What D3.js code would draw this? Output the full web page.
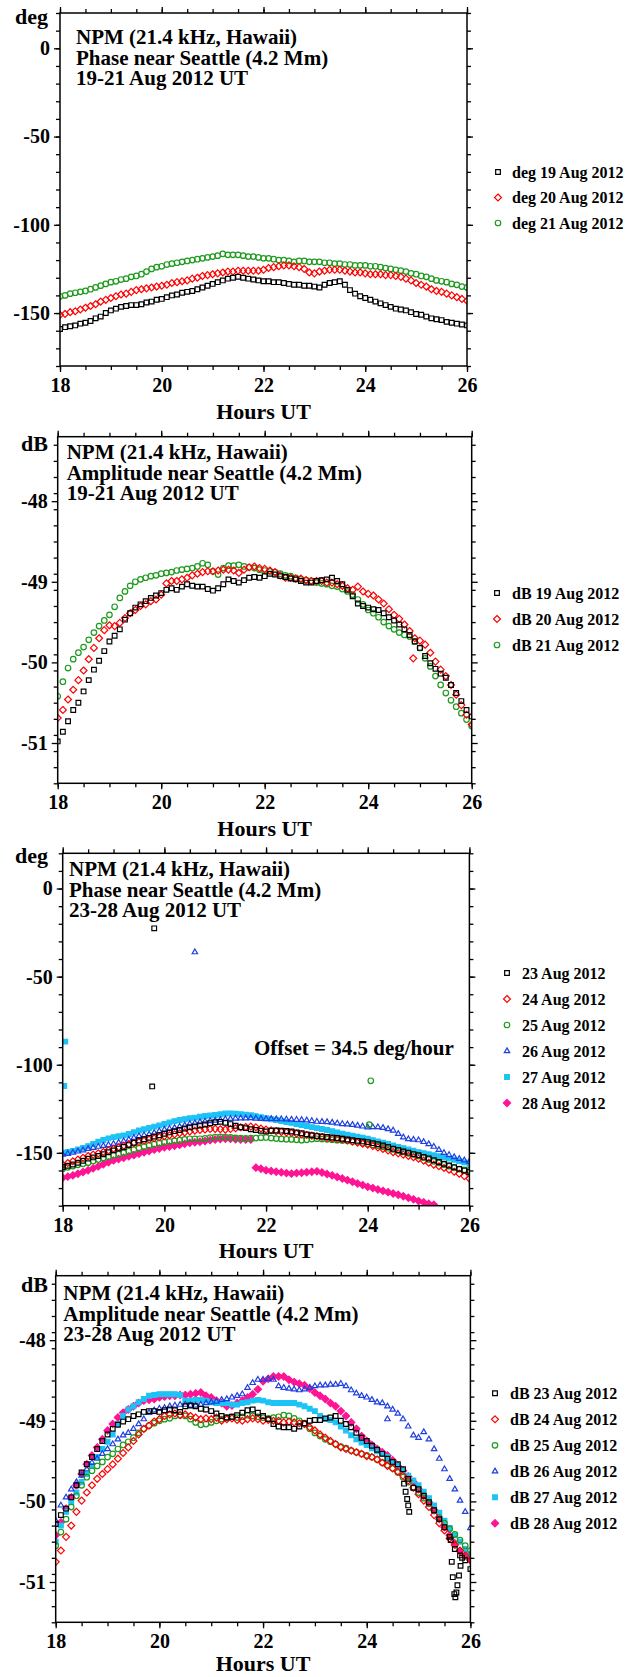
<!DOCTYPE html>
<html lang="en">
<head>
<meta charset="UTF-8">
<title>NPM phase and amplitude near Seattle</title>
<script src="https://d3js.org/d3.v7.min.js"></script>
<style>
  body { margin: 0; background: #fff; }
  svg text { font-family: "Liberation Serif", "Times New Roman", serif; font-weight: bold; fill: #000; }
</style>
</head>
<body>
<div id="chartArea"></div>
<script>
// sample times in hours UT, one every 6 minutes from 18 to 26
const hours = d3.range(81).map(i => 18 + i / 10);
const hourTicks = [18, 20, 22, 24, 26];
const phaseTicks = [0, -50, -100, -150];
const ampTicks = [-48, -49, -50, -51];

// phase 19-21 Aug (deg)
const phase19 = [-159,-158,-157.5,-157,-156,-155.5,-154.5,-153,-152,-150,
  -148.5,-147.5,-146.5,-146,-145.5,-145.5,-145,-144,-143.5,-142.5,
  -142,-141,-140,-139.5,-138.5,-138,-137.5,-136.5,-135.5,-134.5,
  -133.5,-132.5,-131.5,-130.5,-130,-129.5,-130,-130.5,-131,-131.5,
  -132,-132,-132.5,-132.5,-133,-133.5,-134,-134,-134.5,-134.5,
  -135,-135.5,-134,-133,-132.5,-132,-134,-137,-139,-140.5,
  -141.5,-142.5,-143.5,-144.5,-145.5,-146.5,-147.5,-148,-148.5,-149.5,
  -150.5,-151,-152,-153,-153.5,-154,-155,-155.5,-156,-156.5,-157];
const phase20 = [-151,-150.5,-149.5,-149,-148,-147,-146,-145,-143.5,-142.5,
  -141.5,-140.5,-139.5,-139,-138,-137,-136.5,-136,-135.5,-135,
  -134.5,-134,-133,-132.5,-132,-131.5,-130.5,-130,-129,-128.5,
  -128,-127.5,-127,-126.5,-126.5,-126,-126,-126,-126,-126,
  -125.5,-124.5,-124,-123.5,-123,-123,-123.5,-124,-125,-127,
  -127.5,-126.5,-126,-125.5,-125.5,-125.5,-126,-126.5,-127,-127,
  -127.5,-128,-128,-128,-128.5,-128.5,-129,-129.5,-130.5,-131.5,
  -133,-134,-135,-136.5,-137.5,-138,-139,-140,-141,-142,-143];
const phase21 = [-140.5,-140,-139,-138.5,-138,-137.5,-136.5,-135.5,-134.5,-133.5,
  -132.5,-132,-131,-130.5,-129.5,-129,-128,-126.5,-125,-124,
  -123.5,-122.5,-122,-121.5,-121,-120.5,-120,-119.5,-119,-118.5,
  -118,-117.5,-116.5,-117,-117,-117,-117.5,-118,-118,-118.5,
  -119,-119,-119.5,-120,-120,-120.5,-121,-120.5,-120.5,-121,
  -121,-121,-121.5,-121.5,-122,-122,-122.5,-122.5,-123,-123,
  -123,-123.5,-123.5,-124,-124.5,-125,-125.5,-126,-126.5,-127.5,
  -128,-129,-129.5,-130.5,-131.5,-132,-132.5,-133.5,-134,-135,-135.5];

// amplitude 19-21 Aug (dB)
const amp19 = [-50.98,-50.86,-50.73,-50.59,-50.5,-50.36,-50.22,-50.09,-49.98,-49.86,
  -49.74,-49.67,-49.59,-49.47,-49.39,-49.32,-49.28,-49.24,-49.2,-49.17,
  -49.14,-49.1,-49.08,-49.1,-49.06,-49.03,-49.05,-49.06,-49.06,-49.09,
  -49.11,-49.08,-49.03,-48.97,-48.99,-49.01,-48.98,-48.95,-48.94,-48.95,
  -48.93,-48.9,-48.91,-48.93,-48.94,-48.96,-48.97,-48.99,-49.01,-49.01,
  -48.99,-48.98,-48.97,-48.95,-48.99,-49.03,-49.1,-49.18,-49.27,-49.3,
  -49.32,-49.34,-49.35,-49.39,-49.44,-49.48,-49.53,-49.59,-49.66,-49.74,
  -49.82,-49.92,-50.01,-50.08,-50.14,-50.19,-50.28,-50.38,-50.48,-50.59,-50.67];
const amp20 = [-50.69,-50.59,-50.46,-50.34,-50.22,-50.1,-49.96,-49.82,-49.7,-49.6,
  -49.54,-49.55,-49.51,-49.45,-49.39,-49.35,-49.3,-49.28,-49.24,-49.22,
  -49.16,-49.02,-48.99,-48.99,-48.97,-48.95,-48.92,-48.9,-48.88,-48.87,
  -48.87,-48.86,-48.85,-48.85,-48.86,-48.89,-48.85,-48.82,-48.81,-48.83,
  -48.84,-48.86,-48.88,-48.92,-48.95,-48.95,-48.96,-48.96,-48.98,-48.99,
  -48.99,-48.99,-49.01,-49.01,-49.03,-49.05,-49.08,-49.1,-49.06,-49.12,
  -49.15,-49.17,-49.22,-49.27,-49.34,-49.41,-49.46,-49.53,-49.61,-49.7,
  -49.73,-49.78,-49.88,-49.99,-50.09,-50.17,-50.28,-50.4,-50.53,-50.65,-50.77];
const amp21 = [-50.42,-50.24,-50.07,-49.96,-49.88,-49.81,-49.72,-49.63,-49.55,-49.48,
  -49.41,-49.31,-49.2,-49.12,-49.05,-49,-48.97,-48.95,-48.93,-48.92,
  -48.9,-48.89,-48.88,-48.86,-48.85,-48.84,-48.83,-48.81,-48.77,-48.79,
  -48.87,-48.91,-48.83,-48.8,-48.8,-48.79,-48.81,-48.82,-48.83,-48.85,
  -48.86,-48.87,-48.88,-48.9,-48.92,-48.93,-48.95,-48.97,-48.98,-48.99,
  -49.01,-49.02,-49.03,-49.05,-49.06,-49.09,-49.12,-49.16,-49.22,-49.28,
  -49.35,-49.39,-49.44,-49.5,-49.55,-49.59,-49.63,-49.66,-49.68,-49.74,
  -49.82,-49.95,-50.05,-50.17,-50.28,-50.38,-50.47,-50.55,-50.63,-50.71,-50.79];
const amp20OutHours = [24.87];
const amp20OutVals = [-49.95];

// phase 23-28 Aug (deg)
const phase23 = [-158,-157.3,-156.6,-155.6,-154.5,-153.3,-152.6,-151.8,-150.8,-149.7,
  -148.6,-147.6,-146.7,-145.6,-144.3,-143,-142.3,-141.5,-140.7,-140,
  -139.2,-138.4,-137.7,-137,-136.2,-135.5,-135,-134.5,-133.9,-133.2,
  -132.6,-132.4,-132.9,-133.7,-134.6,-135.5,-136,-136.6,-137,-137.5,
  -137.9,-137.5,-137.3,-137.4,-137.6,-137.9,-138.4,-138.9,-139.5,-140,
  -140.5,-140.7,-141,-141.3,-141.6,-142,-142.4,-142.8,-143.2,-143.5,
  -143.9,-144.5,-145.1,-145.8,-146.7,-147.7,-148.4,-149.2,-149.9,-150.7,
  -151.4,-152.3,-153.2,-154.2,-155.2,-156.2,-157.2,-158.1,-159.1,-160,-160.9];
const phase24 = [-156.7,-155.8,-154.8,-153.8,-152.8,-151.8,-151,-150.3,-149.5,-148.6,
  -147.7,-146.8,-145.9,-145.1,-144.5,-143.9,-143.1,-142.4,-141.7,-141.1,
  -140.5,-140,-139.5,-138.9,-138.4,-137.9,-137.4,-137,-136.7,-136.5,
  -136.4,-136.6,-136.8,-136.5,-136,-135.5,-135.3,-135.1,-135.5,-136.2,
  -136.8,-137.2,-137.7,-138.1,-138.4,-138.7,-139.1,-139.6,-139.9,-140.2,
  -140.5,-141,-141.5,-141.8,-142.1,-142.4,-143,-143.6,-144.2,-144.8,
  -145.4,-146.1,-146.9,-147.8,-148.7,-149.6,-150.3,-151,-151.8,-152.5,
  -153.3,-154.4,-155.6,-156.7,-157.6,-158.6,-159.6,-160.7,-161.8,-163.2,-164.6];
const phase25 = [-159,-158.2,-157.5,-156.8,-156.2,-155.6,-154.7,-153.8,-152.9,-152.2,
  -151.4,-150.7,-150,-149.1,-148.2,-147.3,-146.5,-145.8,-145.1,-144.5,
  -143.9,-143.5,-143.2,-142.8,-142.4,-142,-142.1,-142,-141.8,-141.4,
  -141.1,-141,-141.1,-141.2,-141.5,-141.7,-141.8,-141.7,-141.6,-141.4,
  -141.3,-141.6,-141.9,-142.1,-142.3,-142.4,-142.6,-142.8,-142.6,-142.2,
  -142,-142.2,-142.3,-142.5,-142.8,-143,-143.2,-143.5,-143.9,-144.4,
  -144.9,-145.4,-145.9,-146.6,-147.4,-148.1,-148.8,-149.5,-150.3,-151,
  -151.8,-152.8,-153.8,-154.8,-155.7,-156.7,-157.6,-158.5,-159.2,-159.6,-160];
const phase26 = [-151,-150.5,-149.9,-149.2,-148.5,-147.7,-147.1,-146.5,-146,-145.5,
  -144.9,-144.2,-143.4,-142.5,-141.5,-140.5,-140,-139.5,-138.7,-137.7,
  -136.8,-136.3,-135.8,-135.1,-134.4,-133.6,-133.1,-132.5,-132.2,-131.9,
  -131.7,-131.3,-130.9,-130.7,-130.5,-130.4,-130.4,-130.3,-130.5,-130.7,
  -130.8,-130.7,-130.8,-130.9,-131,-131.1,-131.2,-131.3,-131.5,-131.9,
  -132.3,-132.4,-132.5,-132.8,-133.2,-133.6,-133.8,-134.1,-134.5,-135,
  -135.5,-135.4,-135.4,-135.8,-136.5,-137.3,-139.2,-141.2,-142.2,-142.5,
  -142.8,-143.8,-145,-146.5,-148.3,-150,-151.2,-152.4,-153.4,-154.2,-155];
const phase27 = [-150,-149.5,-148.9,-148.1,-147.2,-146.2,-145,-143.7,-142.7,-141.8,
  -141.1,-140.6,-140.1,-139.3,-138.3,-137.3,-136.6,-135.9,-135.1,-134.4,
  -133.6,-132.8,-132,-131.4,-130.9,-130.4,-130,-129.5,-129.1,-128.8,
  -128.5,-128.1,-127.7,-127.6,-127.8,-128,-128.3,-128.7,-129.2,-129.8,
  -130.4,-130.9,-131.4,-132,-132.5,-133,-133.6,-134.2,-134.8,-135.4,
  -136,-136.5,-137,-137.7,-138.4,-139.2,-139.7,-140.2,-140.8,-141.4,
  -142,-142.8,-143.5,-144.3,-145,-145.8,-146.6,-147.3,-148.1,-148.8,
  -149.6,-150.2,-150.8,-151.4,-151.9,-152.4,-153.2,-153.9,-154.7,-155.4,-156.2];
const phase28 = [-164.2,-163.5,-162.8,-161.9,-160.9,-159.9,-158.8,-157.7,-156.5,-155.4,
  -154.3,-153.5,-152.8,-152,-151.3,-150.5,-149.7,-149,-148.2,-147.5,
  -146.8,-146.4,-146,-145.5,-144.9,-144.3,-144,-143.7,-143.3,-142.8,
  -142.4,-142.2,-142,-142.1,-142.3,-142.4,-142.4,-142.5,-158.4,-159,
  -159.9,-160.3,-160.7,-161.1,-161.5,-161.8,-161.5,-161.3,-161,-160.7,
  -160.5,-161.2,-162,-162.8,-163.7,-164.6,-165.5,-166.4,-167.4,-168.3,
  -169.3,-170,-170.8,-171.6,-172.3,-173.1,-173.8,-174.6,-175.5,-176.4,
  -177.4,-178.1,-178.9,-179.5,null,null,null,null,null,null,null];
const phase23OutHours = [19.76, 19.8];
const phase23OutVals = [-112.3, -22.6];
const phase25OutHours = [24.06, 24.03];
const phase25OutVals = [-109.1, -134];
const phase26OutHours = [20.6];
const phase26OutVals = [-36.1];
const phase27OutHours = [18.05, 18.03];
const phase27OutVals = [-86.9, -112.1];

// amplitude 23-28 Aug (dB)
const amp23 = [-50.28,-50.17,-50.09,-49.95,-49.8,-49.64,-49.54,-49.45,-49.35,-49.25,
  -49.17,-49.1,-49.05,-49.01,-48.98,-48.94,-48.92,-48.89,-48.88,-48.88,
  -48.89,-48.87,-48.86,-48.87,-48.89,-48.82,-48.81,-48.82,-48.85,-48.86,
  -48.88,-48.91,-48.94,-48.96,-48.95,-48.93,-48.9,-48.87,-48.86,-48.9,
  -48.94,-48.98,-49.04,-49.07,-49.08,-49.08,-49.1,-49.07,-49.03,-49,
  -48.99,-48.99,-48.97,-48.96,-48.94,-49,-49.04,-49.08,-49.15,-49.21,
  -49.25,-49.31,-49.36,-49.41,-49.47,-49.51,-49.54,-49.6,-49.72,-49.83,
  -49.85,-49.93,-50.01,-50.11,-50.22,-50.32,-50.44,-50.59,-50.67,-50.73,-50.84];
const amp24 = [-50.75,-50.61,-50.44,-50.3,-50.13,-49.99,-49.89,-49.8,-49.72,-49.66,
  -49.6,-49.54,-49.47,-49.4,-49.33,-49.25,-49.17,-49.1,-49.06,-49.01,
  -48.98,-48.94,-48.92,-48.91,-48.93,-48.92,-48.94,-48.96,-48.98,-48.97,
  -48.98,-48.96,-49,-48.98,-48.97,-48.99,-49,-48.98,-48.97,-48.98,
  -49,-48.99,-49,-49,-49.02,-49.01,-49.02,-49.03,-49.04,-49.08,
  -49.12,-49.17,-49.21,-49.25,-49.29,-49.33,-49.35,-49.37,-49.39,-49.41,
  -49.44,-49.45,-49.48,-49.52,-49.56,-49.59,-49.63,-49.68,-49.74,-49.83,
  -49.91,-49.99,-50.07,-50.17,-50.27,-50.36,-50.46,-50.54,-50.61,-50.67,-50.73];
const amp25 = [-50.55,-50.38,-50.22,-50.07,-49.93,-49.8,-49.7,-49.62,-49.56,-49.51,
  -49.45,-49.41,-49.35,-49.3,-49.26,-49.21,-49.15,-49.1,-49.06,-49.03,
  -49,-48.98,-48.97,-48.94,-48.93,-48.94,-48.98,-49.02,-49.05,-49.04,
  -49.02,-49,-48.98,-48.96,-48.95,-48.96,-48.95,-48.93,-48.94,-48.95,
  -48.96,-48.97,-48.96,-48.95,-48.93,-48.94,-48.97,-49,-49.04,-49.1,
  -49.15,-49.19,-49.23,-49.26,-49.29,-49.32,-49.34,-49.37,-49.39,-49.41,
  -49.43,-49.45,-49.48,-49.52,-49.55,-49.59,-49.64,-49.7,-49.76,-49.83,
  -49.89,-49.96,-50.03,-50.11,-50.2,-50.27,-50.34,-50.41,-50.48,-50.55,-50.61];
const amp26 = [-50.24,-50.05,-49.95,-49.85,-49.76,-49.68,-49.6,-49.52,-49.47,-49.41,
  -49.35,-49.29,-49.23,-49.18,-49.15,-49.1,-49.04,-48.98,-48.9,-48.87,
  -48.85,-48.84,-48.82,-48.81,-48.8,-48.8,-48.81,-48.81,-48.8,-48.78,
  -48.77,-48.76,-48.74,-48.73,-48.71,-48.69,-48.67,-48.59,-48.53,-48.49,
  -48.49,-48.48,-48.49,-48.57,-48.59,-48.6,-48.61,-48.62,-48.61,-48.59,
  -48.57,-48.56,-48.56,-48.55,-48.55,-48.54,-48.57,-48.62,-48.66,-48.69,
  -48.71,-48.74,-48.77,-48.78,-48.82,-48.86,-48.91,-48.98,-49.07,-49.18,
  -49.21,-49.14,-49.23,-49.35,-49.47,-49.6,-49.72,-49.85,-49.99,-50.13,-50.33];
const amp27 = [-50.5,-50.3,-50.13,-50.01,-49.89,-49.76,-49.66,-49.56,-49.45,-49.35,
  -49.26,-49.17,-49.04,-48.94,-48.86,-48.82,-48.77,-48.73,-48.69,-48.68,
  -48.67,-48.67,-48.67,-48.67,-48.68,-48.75,-48.75,-48.74,-48.74,-48.75,
  -48.77,-48.78,-48.78,-48.78,-48.8,-48.8,-48.78,-48.77,-48.75,-48.74,
  -48.75,-48.77,-48.78,-48.78,-48.78,-48.78,-48.78,-48.8,-48.82,-48.85,
  -48.88,-48.94,-48.98,-48.99,-49.02,-49.07,-49.12,-49.18,-49.23,-49.27,
  -49.3,-49.34,-49.38,-49.41,-49.45,-49.52,-49.56,-49.62,-49.68,-49.74,
  -49.8,-49.88,-49.96,-50.05,-50.14,-50.24,-50.33,-50.42,-50.5,-50.59,-50.65];
const amp28 = [-50.42,-50.26,-50.09,-49.95,-49.8,-49.66,-49.54,-49.43,-49.33,-49.23,
  -49.12,-49.04,-48.96,-48.9,-48.86,-48.82,-48.78,-48.75,-48.74,-48.73,
  -48.71,-48.7,-48.69,-48.69,-48.68,-48.68,-48.67,-48.66,-48.65,-48.69,
  -48.71,-48.75,-48.78,-48.82,-48.81,-48.78,-48.75,-48.71,-48.67,-48.61,
  -48.51,-48.48,-48.45,-48.45,-48.45,-48.49,-48.52,-48.54,-48.56,-48.6,
  -48.65,-48.69,-48.73,-48.78,-48.82,-48.88,-48.94,-49.02,-49.1,-49.19,
  -49.25,-49.3,-49.35,-49.39,-49.43,-49.49,-49.56,-49.62,-49.69,-49.76,
  -49.85,-49.93,-50.01,-50.11,-50.22,-50.32,-50.42,-50.52,-50.62,-50.67,-50.72];
const amp23OutHours = [24.72,24.75,24.78,24.8,24.82,25.62,25.64,25.66,25.69,25.71,25.73,25.75,25.78,25.81,25.84];
const amp23OutVals = [-49.78,-49.88,-49.97,-50.05,-50.13,-50.48,-50.75,-50.94,-51.15,-51.19,-51.13,-51.04,-50.92,-50.8,-50.7];
const amp26OutHours = [24.4];
const amp26OutVals = [-48.98];

const phaseDomain = [-180, 20];
const ampDomain = [-51.5, -47.2];

// square turned 45 degrees, like the plotting package's diamond
const symbolRhomb = {
  draw(ctx, size) {
    const r = Math.sqrt(size / 2);
    ctx.moveTo(0, -r); ctx.lineTo(r, 0); ctx.lineTo(0, r); ctx.lineTo(-r, 0); ctx.closePath();
  }
};

const sty = {
  black:   { shape: d3.symbolSquare,   color: "#000000", fill: false, size: 22 },
  red:     { shape: symbolRhomb,       color: "#ff0000", fill: false, size: 24 },
  green:   { shape: d3.symbolCircle,   color: "#1e9b1e", fill: false, size: 24 },
  blue:    { shape: d3.symbolTriangle, color: "#1f3fe0", fill: false, size: 13 },
  cyan:    { shape: d3.symbolSquare,   color: "#1ec3f5", fill: true,  size: 22 },
  magenta: { shape: symbolRhomb,       color: "#ff1493", fill: true,  size: 26 }
};

const panels = [
  { left: 60, right: 467, top: 13, bottom: 366, domain: phaseDomain, major: phaseTicks, minorStep: 10,
    unit: "deg", unitY: 24, titleX: 76, titleY: 44,
    title: ["NPM (21.4 kHz, Hawaii)", "Phase near Seattle (4.2 Mm)", "19-21 Aug 2012 UT"],
    legX: 498, legTx: 512, legY: 172, legStep: 25.5,
    series: [
      { name: "deg 19 Aug 2012", vals: phase19, s: sty.black },
      { name: "deg 20 Aug 2012", vals: phase20, s: sty.red },
      { name: "deg 21 Aug 2012", vals: phase21, s: sty.green } ] },
  { left: 57.7, right: 471.7, top: 436.7, bottom: 783.3, domain: ampDomain, major: ampTicks, minorStep: 0.2,
    unit: "dB", unitY: 450.7, titleX: 66.7, titleY: 459.3,
    title: ["NPM (21.4 kHz, Hawaii)", "Amplitude near Seattle (4.2 Mm)", "19-21 Aug 2012 UT"],
    legX: 497, legTx: 512, legY: 593, legStep: 26,
    series: [
      { name: "dB 19 Aug 2012", vals: amp19, s: sty.black },
      { name: "dB 20 Aug 2012", vals: amp20, s: sty.red, outH: amp20OutHours, outV: amp20OutVals },
      { name: "dB 21 Aug 2012", vals: amp21, s: sty.green } ] },
  { left: 62.7, right: 469.4, top: 853.3, bottom: 1205.7, domain: phaseDomain, major: phaseTicks, minorStep: 10,
    unit: "deg", unitY: 863.3, titleX: 69, titleY: 876,
    title: ["NPM (21.4 kHz, Hawaii)", "Phase near Seattle (4.2 Mm)", "23-28 Aug 2012 UT"],
    note: "Offset = 34.5 deg/hour", noteX: 254, noteY: 1055,
    legX: 507, legTx: 522, legY: 973, legStep: 26,
    series: [
      { name: "23 Aug 2012", vals: phase23, s: sty.black, outH: phase23OutHours, outV: phase23OutVals },
      { name: "24 Aug 2012", vals: phase24, s: sty.red },
      { name: "25 Aug 2012", vals: phase25, s: sty.green, outH: phase25OutHours, outV: phase25OutVals },
      { name: "26 Aug 2012", vals: phase26, s: sty.blue, outH: phase26OutHours, outV: phase26OutVals },
      { name: "27 Aug 2012", vals: phase27, s: sty.cyan, outH: phase27OutHours, outV: phase27OutVals },
      { name: "28 Aug 2012", vals: phase28, s: sty.magenta } ] },
  { left: 55.7, right: 470.4, top: 1275.7, bottom: 1622.3, domain: ampDomain, major: ampTicks, minorStep: 0.2,
    unit: "dB", unitY: 1291.7, titleX: 63.3, titleY: 1300,
    title: ["NPM (21.4 kHz, Hawaii)", "Amplitude near Seattle (4.2 Mm)", "23-28 Aug 2012 UT"],
    legX: 495, legTx: 510, legY: 1393.3, legStep: 26,
    series: [
      { name: "dB 23 Aug 2012", vals: amp23, s: sty.black, outH: amp23OutHours, outV: amp23OutVals },
      { name: "dB 24 Aug 2012", vals: amp24, s: sty.red },
      { name: "dB 25 Aug 2012", vals: amp25, s: sty.green },
      { name: "dB 26 Aug 2012", vals: amp26, s: sty.blue, outH: amp26OutHours, outV: amp26OutVals },
      { name: "dB 27 Aug 2012", vals: amp27, s: sty.cyan },
      { name: "dB 28 Aug 2012", vals: amp28, s: sty.magenta } ] }
];

const svg = d3.select("#chartArea").append("svg")
    .attr("width", 626)
    .attr("height", 1677);

function marker(sel, s) {
    sel.attr("d", d3.symbol().type(s.shape).size(s.size))
       .attr("fill", s.fill ? s.color : "none")
       .attr("stroke", s.color)
       .attr("stroke-width", 1.2);
}

panels.forEach((p, k) => {
    const x = d3.scaleLinear().domain([18, 26]).range([p.left, p.right]);
    const y = d3.scaleLinear().domain(p.domain).range([p.bottom, p.top]);
    const g = svg.append("g");

    // clip to plot frame
    const clipId = "clip" + k;
    svg.append("clipPath").attr("id", clipId).append("rect")
        .attr("x", p.left).attr("y", p.top)
        .attr("width", p.right - p.left).attr("height", p.bottom - p.top);

    const minorX = d3.range(18, 26.01, 0.5);
    const n = Math.round((p.domain[1] - p.domain[0]) / p.minorStep);
    const minorY = d3.range(n + 1).map(i => +(p.domain[0] + i * p.minorStep).toFixed(2));

    const axes = [
        [() => d3.axisBottom(x), "translate(0," + p.bottom + ")", hourTicks, minorX, true, 6],
        [() => d3.axisTop(x), "translate(0," + p.top + ")", hourTicks, minorX, false, 4],
        [() => d3.axisLeft(y), "translate(" + p.left + ",0)", p.major, minorY, true, 4],
        [() => d3.axisRight(y), "translate(" + p.right + ",0)", p.major, minorY, false, 4]
    ];
    axes.forEach(([make, tr, major, minor, labels, pad]) => {
        g.append("g").attr("transform", tr)
            .call(make().tickValues(minor).tickSize(4))
            .call(a => a.select(".domain").remove())
            .call(a => a.selectAll("text").remove());
        const mg = g.append("g").attr("transform", tr).attr("class", "major")
            .call(make().tickValues(major).tickSize(6).tickPadding(pad).tickFormat(d => String(d)))
            .call(a => a.select(".domain").remove());
        if (!labels) mg.selectAll("text").remove();
    });
    g.selectAll(".tick line").attr("stroke", "#000").attr("stroke-width", 1.3);
    g.selectAll(".major text").attr("font-size", 20)
        .attr("font-family", "Liberation Serif").attr("font-weight", "bold");

    // data markers, later days underneath
    const plot = g.append("g").attr("clip-path", "url(#" + clipId + ")");
    p.series.slice().reverse().forEach(sr => {
        const pts = hours.map((h, i) => [h, sr.vals[i]]).filter(d => d[1] != null);
        if (sr.outH) sr.outH.forEach((h, i) => pts.push([h, sr.outV[i]]));
        plot.selectAll(null).data(pts).enter().append("path")
            .attr("transform", d => "translate(" + x(d[0]) + "," + y(d[1]) + ")")
            .call(marker, sr.s);
    });

    // frame
    g.append("rect")
        .attr("x", p.left).attr("y", p.top)
        .attr("width", p.right - p.left).attr("height", p.bottom - p.top)
        .attr("fill", "none").attr("stroke", "#000").attr("stroke-width", 1.5);

    // texts
    g.append("text").attr("x", 48).attr("y", p.unitY)
        .attr("text-anchor", "end").attr("font-size", 22).text(p.unit);
    g.append("text").attr("x", (p.left + p.right) / 2).attr("y", Math.min(p.bottom + 52.5, 1671))
        .attr("text-anchor", "middle").attr("font-size", 22).text("Hours UT");
    p.title.forEach((t, i) => {
        g.append("text").attr("x", p.titleX).attr("y", p.titleY + i * 20.5)
            .attr("font-size", 21).text(t);
    });
    if (p.note) {
        g.append("text").attr("x", p.noteX).attr("y", p.noteY)
            .attr("font-size", 21).text(p.note);
    }

    // legend
    p.series.forEach((sr, i) => {
        const ly = p.legY + i * p.legStep;
        g.append("path").attr("transform", "translate(" + p.legX + "," + ly + ")")
            .call(marker, sr.s);
        g.append("text").attr("x", p.legTx).attr("y", ly + 5.5)
            .attr("font-size", 16).text(sr.name);
    });
});
</script>
</body>
</html>
